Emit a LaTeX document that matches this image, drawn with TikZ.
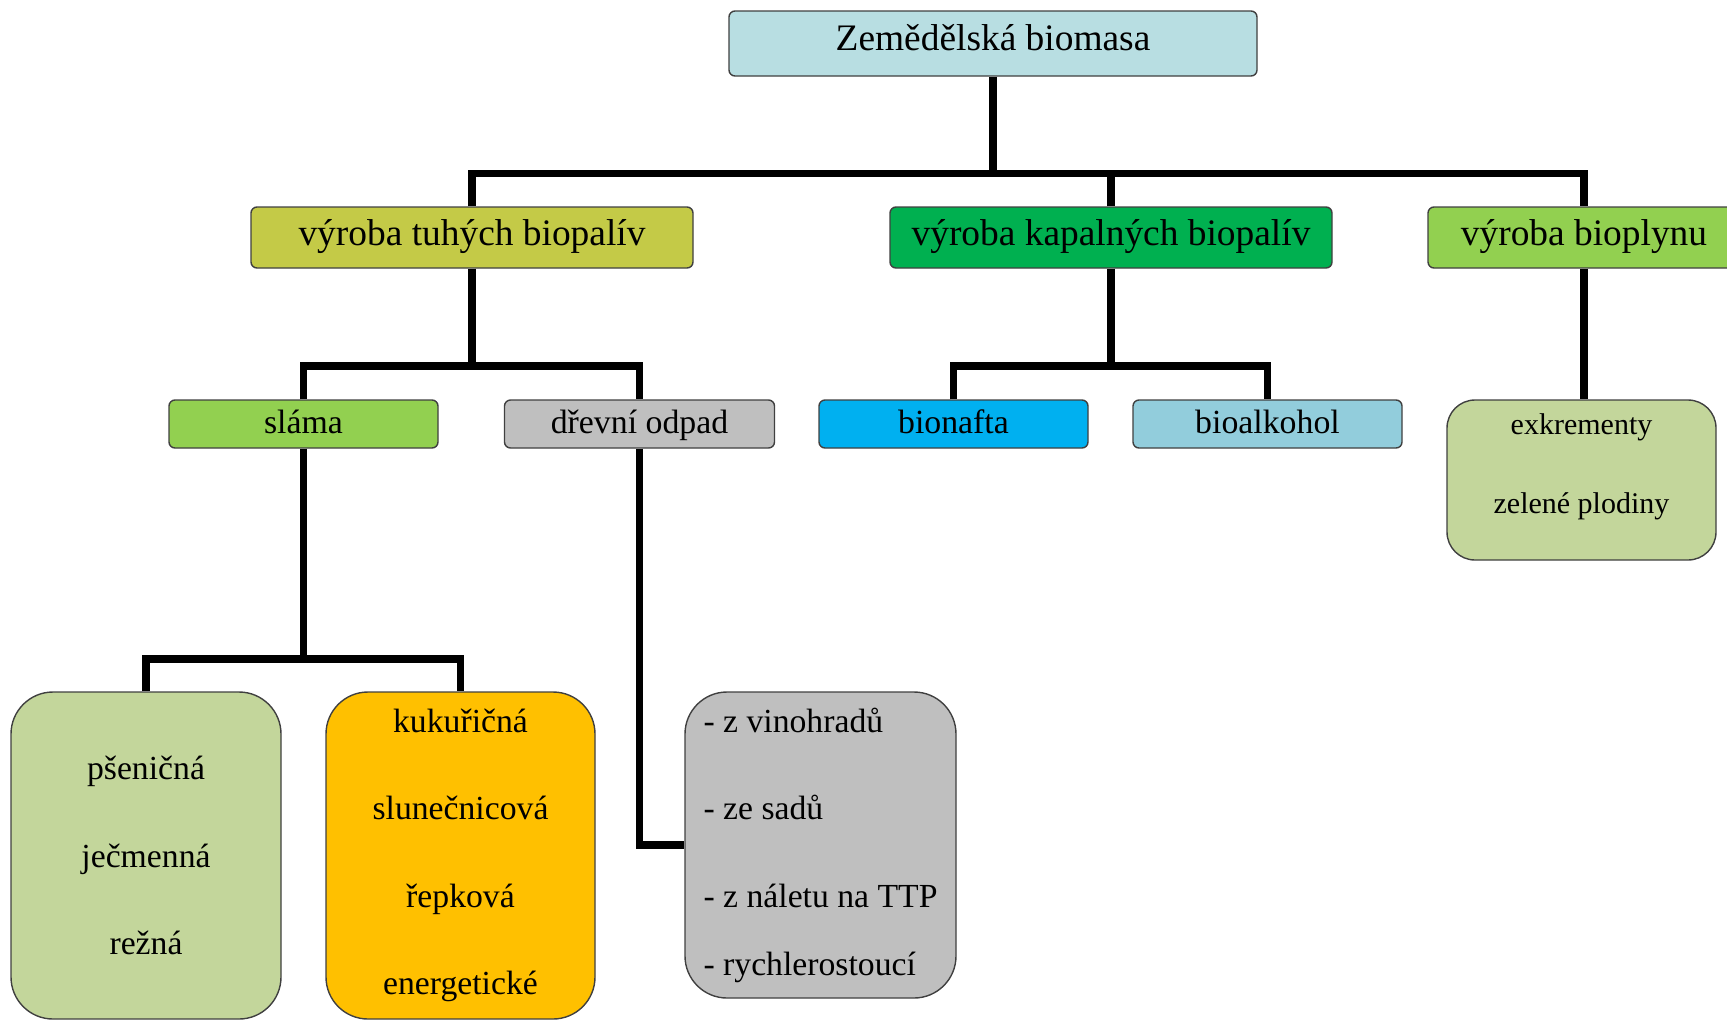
\documentclass[tikz,border=0pt]{standalone}
\usepackage{fontspec}
\setmainfont{Liberation Serif}
\definecolor{bordc}{HTML}{404040}
\definecolor{ctop}{HTML}{B8DEE2}
\definecolor{ctuh}{HTML}{C4CA47}
\definecolor{ckap}{HTML}{00B050}
\definecolor{clgreen}{HTML}{92D050}
\definecolor{cgray}{HTML}{BFBFBF}
\definecolor{cblue}{HTML}{00B0F0}
\definecolor{clblue}{HTML}{92CDDC}
\definecolor{colive}{HTML}{C3D69B}
\definecolor{corange}{HTML}{FFC000}
\begin{document}
\begin{tikzpicture}[x=1pt,y=-1pt,
  box/.style={draw=bordc, line width=1.4pt, rounded corners=6pt, inner xsep=0pt, inner ysep=0pt},
  lvlzero/.style={box, font=\fontsize{37.4}{45}\selectfont, text height=39pt, text depth=26pt},
  lvlone/.style={box, font=\fontsize{37.4}{45}\selectfont, text height=38pt, text depth=23pt},
  lvltwo/.style={box, font=\fontsize{33.8}{40}\selectfont, text height=33pt, text depth=15pt},
  bigbox/.style={box, rounded corners=42pt, font=\fontsize{33.7}{87.5}\selectfont, align=center},
  conn/.style={line width=7.5pt, black}
]
\useasboundingbox (0,0) rectangle (1727,1021);
\clip (0,0) rectangle (1727,1021);

% nodes
\node[lvlzero, fill=ctop, minimum width=528pt] (top) at (993,43.5) {Zemědělská biomasa};
\node[lvlone, fill=ctuh, minimum width=442pt] (tuh) at (472,237.5) {výroba tuhých biopalív};
\node[lvlone, fill=ckap, minimum width=442pt] (kap) at (1111,237.5) {výroba kapalných biopalív};
\node[lvlone, fill=clgreen, minimum width=312pt] (bio) at (1584,237.5) {výroba bioplynu};

\node[lvltwo, fill=clgreen, minimum width=269pt] (sla) at (303.5,424) {sláma};
\node[lvltwo, fill=cgray, minimum width=270pt] (dre) at (639.5,424) {dřevní odpad};
\node[lvltwo, fill=cblue, minimum width=269pt] (bnf) at (953.5,424) {bionafta};
\node[lvltwo, fill=clblue, minimum width=269pt] (bal) at (1267.5,424) {bioalkohol};

\node[box, rounded corners=28pt, fill=colive, minimum width=269pt, minimum height=160pt] (exk) at (1581.5,480) {};
\node[inner sep=0pt, anchor=north, align=center, font=\fontsize{30}{79}\selectfont] (exktxt) at ([yshift=-14pt]exk.north) {exkrementy\\zelené plodiny};

\node[bigbox, fill=colive, minimum width=270pt, minimum height=327pt] (psen) at (146,855.5) {pšeničná\\ječmenná\\režná};
\node[bigbox, fill=corange, minimum width=269pt, minimum height=327pt] (kuk) at (460.5,855.5) {kukuřičná\\slunečnicová\\řepková\\energetické};
\node[bigbox, fill=cgray, align=left, minimum width=271pt, minimum height=306pt] (drv) at (820.5,845) {- z vinohradů\\- ze sadů\\- z náletu na TTP\\[-19.5pt]- rychlerostoucí};

% junction levels
\coordinate (jone) at (993,173.5);
\coordinate (jtwo) at (0,366);
\coordinate (jthree) at (0,659);

% connectors
\draw[conn] (top.south) -- (jone);
\draw[conn] (tuh.north) |- (jone -| bio.north) -- (bio.north);
\draw[conn] (kap.north) -- (kap.north |- jone);

\draw[conn] (tuh.south) -- (tuh.south |- jtwo);
\draw[conn] (sla.north) |- (jtwo -| dre.north) -- (dre.north);
\draw[conn] (kap.south) -- (kap.south |- jtwo);
\draw[conn] (bnf.north) |- (jtwo -| bal.north) -- (bal.north);
\draw[conn] (bio.south) -- (bio.south |- exk.north);

\draw[conn] (sla.south) -- (sla.south |- jthree);
\draw[conn] (psen.north) |- (jthree -| kuk.north) -- (kuk.north);
\draw[conn] (dre.south) |- (drv.west);
\end{tikzpicture}
\end{document}
